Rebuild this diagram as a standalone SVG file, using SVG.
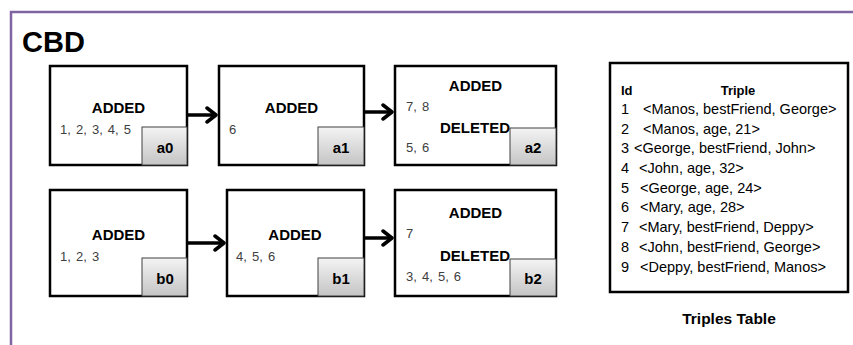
<svg xmlns="http://www.w3.org/2000/svg" width="853" height="345" viewBox="0 0 853 345">
<defs>
<linearGradient id="tagGrad" x1="0" y1="0" x2="0" y2="1">
<stop offset="0" stop-color="#f4f4f4"/>
<stop offset="1" stop-color="#c4c4c4"/>
</linearGradient>
<marker id="chev" viewBox="-12 -10 14 20" markerWidth="14" markerHeight="20" refX="0" refY="0" orient="auto" markerUnits="userSpaceOnUse">
<path d="M-9,-7 L0,0 L-9,7" fill="none" stroke="#000" stroke-width="3.5" stroke-linecap="round" stroke-linejoin="round"/>
</marker>
</defs>
<style>
text{font-family:"Liberation Sans",Arial,sans-serif}
.box{fill:#fff;stroke:#000;stroke-width:2.5}
.tag{fill:url(#tagGrad);stroke:#404040;stroke-width:1}
.hd{font-size:15px;font-weight:bold;fill:#000;text-anchor:middle}
.num{font-size:13px;fill:#404040;word-spacing:1.5px}
.tg{font-size:15px;font-weight:bold;fill:#000;text-anchor:middle}
.conn{fill:none;stroke:#000;stroke-width:3.5;marker-end:url(#chev)}
.row{font-size:14.5px;fill:#000}
</style>
<rect width="853" height="345" fill="#fff"/>
<path d="M11,345 L11,12 L853,12" fill="none" stroke="#8064A2" stroke-width="2.5"/>
<text x="22" y="52" font-size="29" font-weight="bold" fill="#000">CBD</text>

<g id="a0">
<rect class="box" x="50" y="66" width="137" height="99"/>
<text class="hd" x="118.5" y="113">ADDED</text>
<text class="num" x="60" y="134">1, 2, 3, 4, 5</text>
<rect class="tag" x="142" y="127" width="45" height="38"/>
<text class="tg" x="165" y="153">a0</text>
</g>
<g id="a1">
<rect class="box" x="219" y="66" width="145" height="99"/>
<text class="hd" x="291.5" y="113">ADDED</text>
<text class="num" x="229" y="134">6</text>
<rect class="tag" x="318" y="127" width="46" height="38"/>
<text class="tg" x="341" y="153">a1</text>
</g>
<g id="a2">
<rect class="box" x="395" y="66" width="161" height="99"/>
<text class="hd" x="475.5" y="91">ADDED</text>
<text class="num" x="406" y="111">7, 8</text>
<text class="hd" x="475" y="133">DELETED</text>
<text class="num" x="406" y="152">5, 6</text>
<rect class="tag" x="510" y="128" width="46" height="37"/>
<text class="tg" x="533" y="153">a2</text>
</g>
<g id="b0">
<rect class="box" x="50" y="190" width="137" height="106"/>
<text class="hd" x="118.5" y="240">ADDED</text>
<text class="num" x="60" y="261">1, 2, 3</text>
<rect class="tag" x="142" y="258" width="45" height="38"/>
<text class="tg" x="165" y="284">b0</text>
</g>
<g id="b1">
<rect class="box" x="227" y="190" width="137" height="106"/>
<text class="hd" x="295" y="240">ADDED</text>
<text class="num" x="236" y="261">4, 5, 6</text>
<rect class="tag" x="318" y="258" width="46" height="38"/>
<text class="tg" x="341" y="284">b1</text>
</g>
<g id="b2">
<rect class="box" x="395" y="190" width="161" height="106"/>
<text class="hd" x="475.5" y="218">ADDED</text>
<text class="num" x="406" y="238">7</text>
<text class="hd" x="475" y="261">DELETED</text>
<text class="num" x="406" y="281">3, 4, 5, 6</text>
<rect class="tag" x="510" y="259" width="46" height="37"/>
<text class="tg" x="533" y="284">b2</text>
</g>

<g id="connectors">
<path class="conn" d="M188,115 L216,115"/>
<path class="conn" d="M365,112 L392,112"/>
<path class="conn" d="M188,243 L224,243"/>
<path class="conn" d="M365,238 L392,238"/>
</g>

<g id="triples-table">
<rect class="box" x="610" y="63" width="238" height="229"/>
<text x="621" y="95" font-size="13" font-weight="bold" fill="#000">Id</text>
<text x="738" y="95" font-size="13" font-weight="bold" fill="#000" text-anchor="middle">Triple</text>
<text class="row" x="621" y="114">1</text><text class="row" x="643" y="114">&lt;Manos, bestFriend, George&gt;</text>
<text class="row" x="621" y="134">2</text><text class="row" x="643" y="134">&lt;Manos, age, 21&gt;</text>
<text class="row" x="621" y="153">3</text><text class="row" x="634" y="153">&lt;George, bestFriend, John&gt;</text>
<text class="row" x="621" y="173">4</text><text class="row" x="639" y="173">&lt;John, age, 32&gt;</text>
<text class="row" x="621" y="193">5</text><text class="row" x="640" y="193">&lt;George, age, 24&gt;</text>
<text class="row" x="621" y="212">6</text><text class="row" x="640" y="212">&lt;Mary, age, 28&gt;</text>
<text class="row" x="621" y="232">7</text><text class="row" x="639" y="232">&lt;Mary, bestFriend, Deppy&gt;</text>
<text class="row" x="621" y="252">8</text><text class="row" x="639" y="252">&lt;John, bestFriend, George&gt;</text>
<text class="row" x="621" y="272">9</text><text class="row" x="640" y="272">&lt;Deppy, bestFriend, Manos&gt;</text>
<text x="729" y="324" font-size="15.5" font-weight="bold" fill="#000" text-anchor="middle">Triples Table</text>
</g>
</svg>
